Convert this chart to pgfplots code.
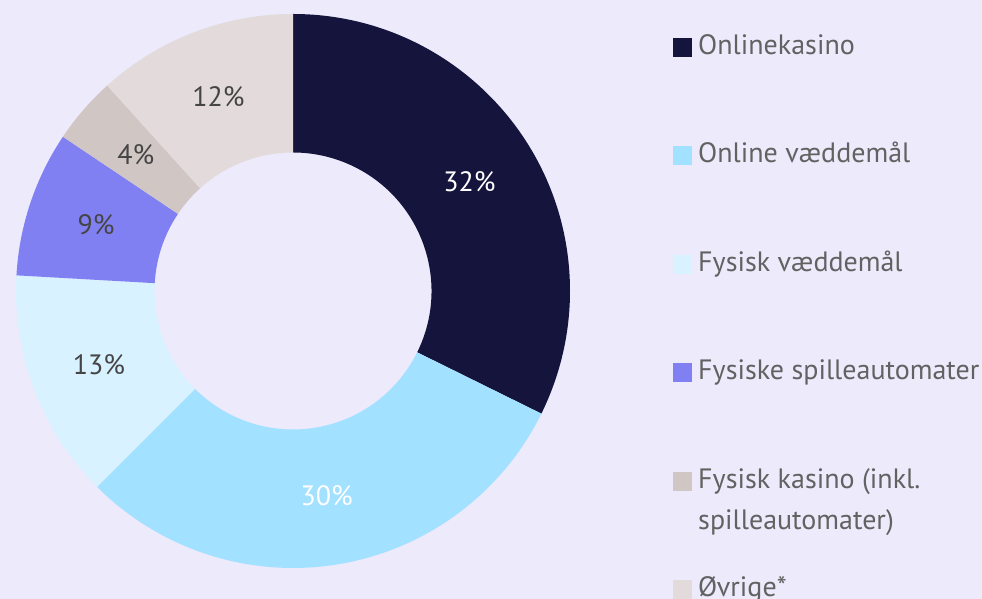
\documentclass[border=0pt]{standalone}
\usepackage{pgfplots}
\pgfplotsset{compat=1.18}
\usepackage{pgfplotstable}
\usepackage{fontspec}
\setmainfont{PT Sans}

\definecolor{bg}{HTML}{ECEAFB}
\definecolor{cA}{HTML}{15143C}
\definecolor{cB}{HTML}{A2E1FF}
\definecolor{cC}{HTML}{D8F2FF}
\definecolor{cD}{HTML}{8080F2}
\definecolor{cE}{HTML}{D0C6C4}
\definecolor{cF}{HTML}{E3DBDB}
\definecolor{labgray}{HTML}{454545}
\definecolor{leggray}{HTML}{626262}

% share in percent, printed label, slice colour, label colour (clockwise from 12 o'clock)
\pgfplotstableread{
val lab col tcol
32.3 32 cA white
30.2 30 cB white
13.4 13 cC labgray
8.5  9  cD labgray
3.9  4  cE labgray
11.7 12 cF labgray
}\shares

\pgfplotsset{sq/.style={legend image code/.code={\fill[#1] (0pt,-4.5pt) rectangle (9pt,4.5pt);}}}

\begin{document}
\begin{tikzpicture}[font=\fontsize{14}{17}\selectfont]
\useasboundingbox (0,0) rectangle (491pt,299.5pt);
\fill[bg] (0,0) rectangle (491pt,299.5pt);
\begin{axis}[
    at={(146.5pt,154pt)}, anchor=center,
    x=138.5pt, y=138.5pt,
    xmin=-1, xmax=1, ymin=-1, ymax=1,
    hide axis, clip=false,
    legend cell align=left,
    legend style={at={(1.186,0.964)}, anchor=north west,
        draw=none, fill=none, inner sep=0pt,
        row sep=41.25pt, text=leggray,
        font=\fontsize{14}{20.5}\selectfont,
        nodes={text height=10pt, text depth=3pt, inner ysep=0pt, inner xsep=3pt}},
]
\pgfplotstablegetrowsof{\shares}
\pgfmathtruncatemacro\lastrow{\pgfplotsretval-1}
\def\cum{0}
\pgfplotsforeachungrouped \i in {0,...,\lastrow}{
    \pgfplotstablegetelem{\i}{val}\of\shares \let\sval\pgfplotsretval
    \pgfplotstablegetelem{\i}{lab}\of\shares \let\slab\pgfplotsretval
    \pgfplotstablegetelem{\i}{col}\of\shares \let\scol\pgfplotsretval
    \pgfplotstablegetelem{\i}{tcol}\of\shares \let\stcol\pgfplotsretval
    \pgfmathsetmacro\aA{90-3.6*\cum}
    \pgfmathsetmacro\aB{90-3.6*(\cum+\sval)}
    \pgfmathsetmacro\aM{(\aA+\aB)/2}
    \edef\slice{%
        \noexpand\fill[\scol] (axis cs:{cos(\aA)},{sin(\aA)})
            arc[start angle=\aA, end angle=\aB, radius=138.5pt]
            -- (axis cs:{0.5*cos(\aB)},{0.5*sin(\aB)})
            arc[start angle=\aB, end angle=\aA, radius=69.25pt] -- cycle;
        \noexpand\node[text=\stcol] at (axis cs:{0.75*cos(\aM)},{0.75*sin(\aM)}) {\slab\noexpand\%};
    }
    \slice
    \pgfmathsetmacro\cum{\cum+\sval}
}
\addlegendimage{sq=cA}\addlegendentry{Onlinekasino}
\addlegendimage{sq=cB}\addlegendentry{Online væddemål}
\addlegendimage{sq=cC}\addlegendentry{Fysisk væddemål}
\addlegendimage{sq=cD}\addlegendentry{Fysiske spilleautomater}
\addlegendimage{sq=cE}\addlegendentry{\vtop{\hbox{Fysisk kasino (inkl.}\hbox{spilleautomater)}}}
\addlegendimage{sq=cF}\addlegendentry{Øvrige*}
\end{axis}
\end{tikzpicture}
\end{document}
